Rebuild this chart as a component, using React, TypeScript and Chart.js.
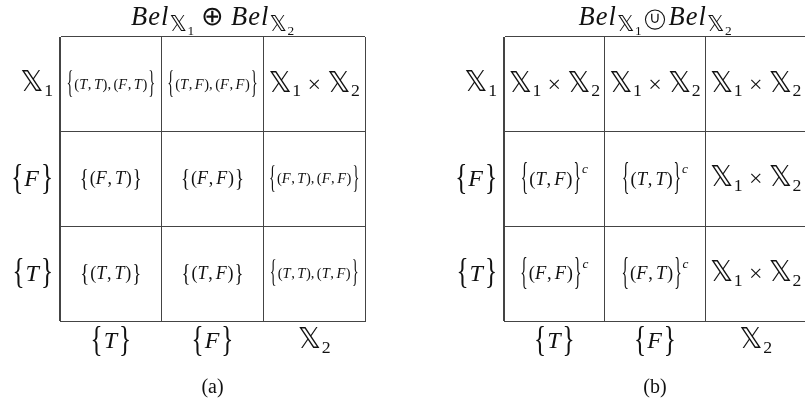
import React, { useEffect, useRef } from 'react';
import { Chart, registerables } from 'chart.js';

Chart.register(...registerables);

// ---- data ----
const COLS = ['{T}', '{F}', '𝕏₂'];
const ROWS = ['𝕏₁', '{F}', '{T}'];
const CELLS_A = [
  ['{(T,T),(F,T)}', '{(T,F),(F,F)}', '𝕏₁ × 𝕏₂'],
  ['{(F,T)}', '{(F,F)}', '{(F,T),(F,F)}'],
  ['{(T,T)}', '{(T,F)}', '{(T,T),(T,F)}'],
];
const CELLS_B = [
  ['𝕏₁ × 𝕏₂', '𝕏₁ × 𝕏₂', '𝕏₁ × 𝕏₂'],
  ['{(T,F)}ᶜ', '{(T,T)}ᶜ', '𝕏₁ × 𝕏₂'],
  ['{(F,F)}ᶜ', '{(F,T)}ᶜ', '𝕏₁ × 𝕏₂'],
];
const TITLES = ['Bel_[𝕏₁] ⊕ Bel_[𝕏₂]', 'Bel_[𝕏₁] ∪\u20DD Bel_[𝕏₂]'];
const CAPTIONS = ['(a)', '(b)'];

// ---- rich text helpers ----
const SERIF = '"Liberation Serif", "Times New Roman", serif';
const DS = '"DejaVu Sans", "DejaVu Serif", sans-serif';
const INK = '#111';
const LINE = '#444';

type Piece = { t: string; font: string; dy: number; w: number; sx: number; padL: number; padR: number; circle?: number };

function build(ctx: CanvasRenderingContext2D, str: string, base: number, braceS: number, braceSx: number) {
  const chars = Array.from(str);
  const pieces: Piece[] = [];
  let scale = 1;
  let dyOff = 0;
  const stack: [number, number][] = [];
  const push = (t: string, fam: string, italic: boolean, size: number, dy: number, sx = 1, padL = 0, padR = 0, circle?: number) => {
    const font = `${italic ? 'italic ' : ''}${size.toFixed(2)}px ${fam}`;
    ctx.font = font;
    const w = ctx.measureText(t).width * sx;
    pieces.push({ t, font, dy: dyOff + dy, w, sx, padL, padR, circle });
  };
  for (let i = 0; i < chars.length; i++) {
    const c = chars[i];
    const sz = base * scale;
    if (c === ' ') continue;
    if (c === '_' && chars[i + 1] === '[') {
      stack.push([scale, dyOff]);
      dyOff += sz * 0.24;
      scale *= 0.68;
      i++;
      continue;
    }
    if (c === ']') {
      const s = stack.pop();
      if (s) { scale = s[0]; dyOff = s[1]; }
      continue;
    }
    if (c === '₁' || c === '₂') { push(c === '₁' ? '1' : '2', SERIF, false, sz * 0.74, sz * 0.2, 1, 0.6); continue; }
    if (c === 'ᶜ') { push('c', SERIF, true, sz * 0.72, -sz * 0.62, 1, 1); continue; }
    if (c === '𝕏') { push(c, DS, false, sz * 1.2, 0); continue; }
    if (c === '{' || c === '}') {
      const S = braceS * scale;
      push(c, SERIF, false, S, 0.25 * (S - sz), braceSx, c === '}' ? 1 : 0, c === '{' ? 1 : 0);
      continue;
    }
    if (c === '×' || c === '⊕') { push(c, SERIF, false, sz, 0, 1, sz * 0.26, sz * 0.26); continue; }
    if (c === '∪' && chars[i + 1] === '\u20DD') {
      push('∪', SERIF, false, sz * 0.62, -sz * 0.06, 1, sz * 0.28, sz * 0.28, sz * 0.36);
      i++;
      continue;
    }
    if (c === ',') { push(',', SERIF, false, sz, 0, 1, 0, sz * 0.17); continue; }
    if (/[A-Za-z]/.test(c)) { push(c, SERIF, true, sz, 0, 1, 0, sz * 0.04); continue; }
    push(c, SERIF, false, sz, 0);
  }
  const width = pieces.reduce((a, p) => a + p.w + p.padL + p.padR, 0);
  return { pieces, width };
}

function drawRich(ctx: CanvasRenderingContext2D, str: string, base: number, braceS: number, braceSx: number, x: number, y: number, align: 'center' | 'right') {
  const { pieces, width } = build(ctx, str, base, braceS, braceSx);
  let cx = align === 'center' ? x - width / 2 : x - width;
  ctx.save();
  ctx.fillStyle = INK;
  ctx.strokeStyle = INK;
  ctx.textBaseline = 'alphabetic';
  ctx.textAlign = 'left';
  for (const p of pieces) {
    cx += p.padL;
    ctx.font = p.font;
    if (p.sx !== 1) {
      ctx.save();
      ctx.translate(cx, y + p.dy);
      ctx.scale(p.sx, 1);
      ctx.fillText(p.t, 0, 0);
      ctx.restore();
    } else {
      ctx.fillText(p.t, cx, y + p.dy);
    }
    if (p.circle) {
      ctx.beginPath();
      ctx.lineWidth = 1.1;
      ctx.arc(cx + p.w / 2, y - p.circle * 0.62 + 0.5, p.circle, 0, Math.PI * 2);
      ctx.stroke();
    }
    cx += p.w + p.padR;
  }
  ctx.restore();
}

function cellStyle(t: string): [number, number, number] {
  if (t.includes('𝕏')) return [24, 35, 0.72];
  const pairs = (t.match(/\(/g) || []).length;
  if (pairs > 1) return [14.5, 32, 0.45];
  if (t.includes('ᶜ')) return [18.5, 37, 0.42];
  return [18, 26, 0.72];
}

const tablePlugin = {
  id: 'tableText',
  afterDatasetsDraw(chart: any) {
    const ctx: CanvasRenderingContext2D = chart.ctx;
    const xs = chart.scales.x;
    const ys = chart.scales.y;
    const area = chart.chartArea;
    const opts = chart.options.plugins.tableText;
    // cell contents from the dataset points
    const meta = chart.getDatasetMeta(0);
    const raw = chart.data.datasets[0].data;
    meta.data.forEach((el: any, i: number) => {
      const t = raw[i].text as string;
      const [b, S, sx] = cellStyle(t);
      drawRich(ctx, t, b, S, sx, el.x, el.y + b * 0.3, 'center');
    });
    // row labels
    (ys.getLabels() as string[]).forEach((lab, i) => {
      const y = ys.getPixelForValue(i);
      drawRich(ctx, lab, 24, 35, 0.72, area.left - 7, y + 7, 'right');
    });
    // column labels
    (xs.getLabels() as string[]).forEach((lab, i) => {
      const x = xs.getPixelForValue(i);
      drawRich(ctx, lab, 24, 35, 0.72, x, area.bottom + 27, 'center');
    });
    const mid = (area.left + area.right) / 2;
    drawRich(ctx, opts.title, 26.5, 30, 0.7, mid, 25, 'center');
    ctx.save();
    ctx.fillStyle = INK;
    ctx.font = `20px ${SERIF}`;
    ctx.textAlign = 'center';
    ctx.textBaseline = 'alphabetic';
    ctx.fillText(opts.caption, mid, 393);
    ctx.restore();
  },
};

function Panel({ cells, title, caption, left, width, padLeft, padRight }: any) {
  const ref = useRef<HTMLCanvasElement>(null);
  useEffect(() => {
    if (!ref.current) return;
    const points = (cells as string[][]).flatMap((row, r) =>
      row.map((text, c) => ({ x: COLS[c], y: ROWS[r], text }))
    );
    const chart = new Chart(ref.current, {
      type: 'scatter',
      data: { datasets: [{ data: points as any, pointRadius: 0, pointHoverRadius: 0, showLine: false }] },
      options: {
        animation: false,
        responsive: false,
        devicePixelRatio: 1,
        events: [],
        layout: { padding: { left: padLeft, right: padRight, top: 37, bottom: 86 } },
        scales: {
          x: {
            type: 'category',
            labels: COLS,
            offset: true,
            grid: { offset: true, color: LINE, lineWidth: 1, drawTicks: false },
            border: { display: true, color: LINE, width: 1 },
            ticks: { display: false },
          },
          y: {
            type: 'category',
            labels: ROWS,
            offset: true,
            grid: { offset: true, color: LINE, lineWidth: 1, drawTicks: false },
            border: { display: true, color: LINE, width: 1 },
            ticks: { display: false },
          },
        },
        plugins: {
          legend: { display: false },
          tooltip: { enabled: false },
          tableText: { title, caption },
        } as any,
      },
      plugins: [tablePlugin],
    } as any);
    return () => chart.destroy();
  }, []);
  return (
    <canvas
      ref={ref}
      width={width}
      height={407}
      style={{ position: 'absolute', left, top: 0, width, height: 407 }}
    />
  );
}

export default function App() {
  return (
    <div
      style={{
        position: 'fixed',
        left: 0,
        top: 0,
        width: 805,
        height: 407,
        overflow: 'hidden',
        background: '#fff',
      }}
    >
      <Panel cells={CELLS_A} title={TITLES[0]} caption={CAPTIONS[0]} left={0} width={420} padLeft={60} padRight={55} />
      <Panel cells={CELLS_B} title={TITLES[1]} caption={CAPTIONS[1]} left={420} width={400} padLeft={84} padRight={14} />
    </div>
  );
}
